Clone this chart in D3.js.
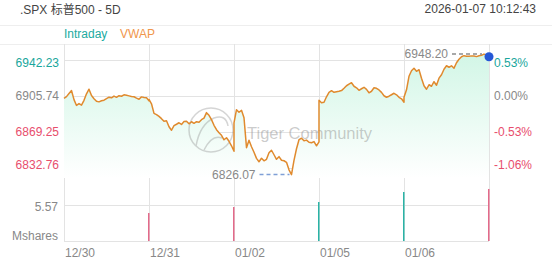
<!DOCTYPE html>
<html>
<head>
<meta charset="utf-8">
<script src="https://cdn.jsdelivr.net/npm/d3@7"></script>
<style>
body { margin: 0; background: #fff; }
svg text { font-family: "Liberation Sans", Arial, "Noto Sans CJK SC", sans-serif; }
</style>
</head>
<body>
<div id="chart"></div>
<script>
const days = ["12/30", "12/31", "01/02", "01/05", "01/06"];
const prevClose = 6905.74;
const priceTicks = [6942.23, 6905.74, 6869.25, 6832.76];

// intraday prices (35 samples per session)
const day1 = [6903.42, 6905.10, 6908.31, 6911.26, 6902.05, 6896.18, 6898.02, 6896.40, 6901.33, 6907.95,
    6912.60, 6906.21, 6902.94, 6900.35, 6899.80, 6900.92, 6901.47, 6903.05, 6904.51, 6903.88,
    6905.63, 6904.39, 6906.02, 6905.47, 6906.98, 6906.54, 6905.86, 6905.21, 6904.96, 6903.60,
    6902.48, 6904.85, 6904.30, 6903.95, 6900.84];
const day2 = [6902.31, 6897.85, 6888.12, 6886.90, 6885.04, 6882.77, 6880.13, 6880.66, 6874.58, 6871.02,
    6875.71, 6877.10, 6878.62, 6876.95, 6879.80, 6880.21, 6877.54, 6879.63, 6878.09, 6879.71,
    6879.15, 6881.68, 6883.27, 6888.86, 6886.12, 6881.75, 6876.03, 6871.54, 6868.47, 6865.90,
    6861.38, 6863.45, 6859.86, 6855.30, 6849.72];
const day3 = [6878.60, 6891.83, 6889.25, 6891.20, 6883.71, 6853.36, 6860.88, 6854.29, 6848.70, 6842.55,
    6839.12, 6842.64, 6840.03, 6841.57, 6848.21, 6850.76, 6846.18, 6841.60, 6844.27, 6840.59,
    6840.11, 6838.52, 6830.94, 6826.07, 6840.45, 6852.30, 6861.47, 6862.89, 6860.41, 6861.02,
    6858.83, 6858.37, 6859.54, 6855.28, 6859.33];
const day4 = [6901.42, 6898.90, 6899.37, 6904.95, 6909.51, 6911.08, 6909.46, 6910.12, 6910.57, 6911.23,
    6913.60, 6916.14, 6917.68, 6919.20, 6915.63, 6914.07, 6911.55, 6913.10, 6914.58, 6912.49,
    6908.97, 6910.55, 6914.12, 6913.58, 6911.90, 6909.44, 6905.98, 6904.47, 6905.53, 6907.02,
    6908.51, 6906.94, 6904.38, 6902.91, 6899.45];
const day5 = [6904.51, 6912.06, 6925.74, 6931.35, 6933.86, 6930.79, 6932.40, 6923.72, 6916.15, 6912.58,
    6917.13, 6915.62, 6920.21, 6916.64, 6923.85, 6927.30, 6932.88, 6936.41, 6934.90, 6936.37,
    6933.95, 6939.46, 6943.02, 6945.51, 6946.63, 6946.05, 6945.92, 6946.41, 6946.20, 6945.66,
    6946.52, 6946.95, 6948.20, 6947.12, 6945.58];

// closing volume spikes (M shares)
const closeVol = [4.33, 5.26, 6.03, 7.58, 8.05];
const closeUp = [false, false, true, true, false];
const volTick = 5.57;

const teal = "#19a69c", red = "#e84e6d", grey = "#888";

const svg = d3.select("#chart").append("svg")
    .attr("width", 552)
    .attr("height", 265);

const x = d3.scaleLinear().domain([0, days.length]).range([64, 489]);
const y = d3.scaleLinear().domain([6832.76, 6942.23]).range([168, 60]);
const yv = d3.scaleLinear().domain([0, volTick]).range([241, 205]);

// flatten sessions into points
const sessions = [day1, day2, day3, day4, day5];
const points = [];
sessions.forEach((s, d) => {
    s.forEach((p, i) => points.push({ t: d + i / (s.length - 1), p: p }));
});

// header
svg.append("text").attr("x", 20).attr("y", 14).attr("font-size", 12).attr("fill", "#444")
    .text(".SPX 标普500 - 5D");
svg.append("text").attr("x", 536).attr("y", 13).attr("font-size", 12).attr("fill", "#444")
    .attr("text-anchor", "end").text("2026-01-07  10:12:43");
[25, 44].forEach(v => {
    svg.append("line").attr("x1", 0).attr("x2", 552).attr("y1", v + 0.5).attr("y2", v + 0.5)
        .attr("stroke", "#eeeeee");
});
svg.append("text").attr("x", 64).attr("y", 38).attr("font-size", 12).attr("fill", "#21aaa0").text("Intraday");
svg.append("text").attr("x", 120).attr("y", 38).attr("font-size", 12).attr("fill", "#f0964c").text("VWAP");

// grid
const grid = svg.append("g").attr("stroke", "#e3e3e3");
d3.range(days.length + 1).forEach(d => {
    grid.append("line").attr("x1", Math.round(x(d)) + 0.5).attr("x2", Math.round(x(d)) + 0.5)
        .attr("y1", 44).attr("y2", 241);
});
priceTicks.forEach(v => {
    grid.append("line").attr("x1", 64).attr("x2", 489)
        .attr("y1", Math.round(y(v)) + 0.5).attr("y2", Math.round(y(v)) + 0.5);
});
[volTick, 0].forEach(v => {
    grid.append("line").attr("x1", 64).attr("x2", 489)
        .attr("y1", Math.round(yv(v)) + 0.5).attr("y2", Math.round(yv(v)) + 0.5);
});

// area gradient
const grad = svg.append("defs").append("linearGradient")
    .attr("id", "fillGrad").attr("gradientUnits", "userSpaceOnUse")
    .attr("x1", 0).attr("y1", 54).attr("x2", 0).attr("y2", 178);
grad.append("stop").attr("offset", 0).attr("stop-color", "#d2f6e6");
grad.append("stop").attr("offset", 1).attr("stop-color", "#ffffff");

const area = d3.area()
    .x(d => x(d.t))
    .y0(178)
    .y1(d => y(d.p));
svg.append("path").datum(points).attr("d", area).attr("fill", "url(#fillGrad)");

// watermark
const wm = svg.append("g").attr("opacity", 0.35).attr("fill", "none").attr("stroke", "#888");
wm.append("circle").attr("cx", 211).attr("cy", 130).attr("r", 22).attr("stroke-width", 1.5);
wm.append("path").attr("d", "M196,146 Q200,124 214,118 Q226,114 228,126 M204,150 Q212,134 222,138")
    .attr("stroke-width", 1.5);
svg.append("text").attr("x", 247).attr("y", 139).attr("font-size", 16.5)
    .attr("fill", "rgba(140,140,140,0.45)").text("Tiger Community");

// price line
const line = d3.line()
    .x(d => x(d.t))
    .y(d => y(d.p));
svg.append("path").datum(points).attr("d", line)
    .attr("fill", "none").attr("stroke", "#e08a2e").attr("stroke-width", 1.5)
    .attr("stroke-linejoin", "round");

// volume spikes at session closes
svg.selectAll(".vol").data(closeVol).enter().append("rect")
    .attr("class", "vol")
    .attr("x", (d, i) => x(i + 1) - 1)
    .attr("width", 1.5)
    .attr("y", d => yv(d))
    .attr("height", d => yv(0) - yv(d))
    .attr("fill", (d, i) => closeUp[i] ? "#2ab3a6" : "#e36a8a");

// max / min markers
const maxPt = points.reduce((a, b) => b.p > a.p ? b : a);
const minPt = points.reduce((a, b) => b.p < a.p ? b : a);
[[maxPt, "#8c8c8c"], [minPt, "#7f9fd6"]].forEach(([pt, c]) => {
    const px = x(pt.t), py = y(pt.p);
    svg.append("line").attr("x1", px - 32).attr("x2", px - 2).attr("y1", py).attr("y2", py)
        .attr("stroke", c).attr("stroke-dasharray", "4,3").attr("stroke-width", 1.5);
    svg.append("text").attr("x", px - 36).attr("y", py + 4).attr("text-anchor", "end")
        .attr("font-size", 12).attr("fill", grey).text(pt.p.toFixed(2));
});

// last point
const last = points[points.length - 1];
svg.append("circle").attr("cx", x(last.t)).attr("cy", y(last.p)).attr("r", 4.5).attr("fill", "#2457d6");

// axes labels
const tickColor = v => v > prevClose ? teal : (v < prevClose ? red : grey);
priceTicks.forEach(v => {
    const ly = Math.min(Math.max(y(v), 63), 165) + 4;
    svg.append("text").attr("x", 59).attr("y", ly).attr("text-anchor", "end")
        .attr("font-size", 12).attr("fill", tickColor(v)).text(v.toFixed(2));
    svg.append("text").attr("x", 494).attr("y", ly)
        .attr("font-size", 12).attr("fill", tickColor(v))
        .text(((v - prevClose) / prevClose * 100).toFixed(2) + "%");
});
svg.append("text").attr("x", 58).attr("y", yv(volTick) + 6).attr("text-anchor", "end")
    .attr("font-size", 12).attr("fill", grey).text(volTick.toFixed(2));
svg.append("text").attr("x", 58).attr("y", 240).attr("text-anchor", "end")
    .attr("font-size", 12).attr("fill", grey).text("Mshares");

days.forEach((d, i) => {
    svg.append("text").attr("x", x(i) + 1).attr("y", 257)
        .attr("font-size", 12).attr("fill", grey).text(d);
});
</script>
</body>
</html>
